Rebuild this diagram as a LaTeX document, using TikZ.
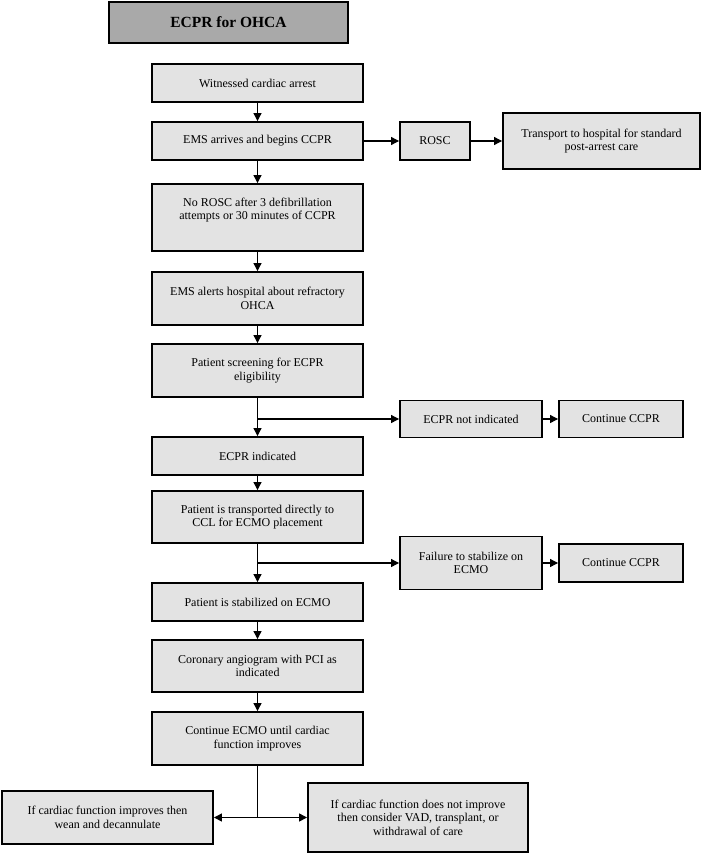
\documentclass[tikz,border=0pt]{standalone}
\usepackage{fontspec}
\setmainfont{Liberation Serif}
\newfontfamily\boxfont{Liberation Serif}
\usepackage{tikz}
\usetikzlibrary{arrows.meta,calc}
\definecolor{boxgray}{HTML}{E3E3E3}
\definecolor{titlegray}{HTML}{A9A9A9}
\tikzset{
  box/.style={draw, line width=1.9pt, fill=boxgray, align=center, inner sep=2pt,
    font=\boxfont\fontsize{12}{13.6}\selectfont},
  tip/.tip={Triangle[length=8pt,width=8pt]},
  arr/.style={-tip, line width=1.1pt},
}
\begin{document}
\begin{tikzpicture}[x=1pt,y=1pt]
  \useasboundingbox (0,0) rectangle (716,-854);
  % title
  \node[box, fill=titlegray, minimum width=239pt, minimum height=41pt,
    font=\boxfont\fontsize{15.5}{17}\selectfont\bfseries] (title) at (228.5,-22.5) {ECPR for OHCA};
  % main column
  \node[box, minimum width=211pt, minimum height=38pt] (witness) at (257.5,-83) {Witnessed cardiac arrest};
  \node[box, minimum width=211pt, minimum height=38pt] (ems) at (257.5,-141) {EMS arrives and begins CCPR};
  \node[box, minimum width=211pt, minimum height=67pt] (norosc) at (257.5,-217.5) {No ROSC after 3 defibrillation\\attempts or 30 minutes of CCPR\\\strut};
  \node[box, minimum width=211pt, minimum height=53pt] (alert) at (257.5,-298.5) {EMS alerts hospital about refractory\\OHCA};
  \node[box, minimum width=211pt, minimum height=53pt] (screen) at (257.5,-370.5) {Patient screening for ECPR\\eligibility};
  \node[box, minimum width=211pt, minimum height=38pt] (indicated) at (257.5,-456) {ECPR indicated};
  \node[box, minimum width=211pt, minimum height=52pt] (transported) at (257.5,-517) {Patient is transported directly to\\CCL for ECMO placement};
  \node[box, minimum width=211pt, minimum height=38pt] (stable) at (257.5,-602) {Patient is stabilized on ECMO};
  \node[box, minimum width=211pt, minimum height=52pt] (angio) at (257.5,-666) {Coronary angiogram with PCI as\\indicated};
  \node[box, minimum width=211pt, minimum height=53pt] (ecmo) at (257.5,-738.5) {Continue ECMO until cardiac\\function improves};
  % side branches
  \node[box, minimum width=70pt, minimum height=38pt] (rosc) at (435,-141) {ROSC};
  \node[box, minimum width=197pt, minimum height=56pt] (hospital) at (601.5,-141) {Transport to hospital for standard\\post-arrest care};
  \node[box, minimum width=142pt, minimum height=37pt] (notind) at (471,-419) {ECPR not indicated};
  \node[box, minimum width=124pt, minimum height=37pt] (ccpra) at (621,-419) {Continue CCPR};
  \node[box, minimum width=142pt, minimum height=53pt] (fail) at (471,-563) {Failure to stabilize on\\ECMO};
  \node[box, minimum width=124pt, minimum height=38pt] (ccprb) at (621,-563) {Continue CCPR};
  % outcomes
  \node[box, minimum width=211pt, minimum height=53pt] (wean) at (107.5,-817.5) {If cardiac function improves then\\wean and decannulate};
  \node[box, minimum width=220pt, minimum height=69pt] (noimprove) at (418,-817.5) {If cardiac function does not improve\\then consider VAD, transplant, or\\withdrawal of care};

  \coordinate (split1) at (screen.south |- notind.west);
  \coordinate (split2) at (transported.south |- fail.west);
  \coordinate (split3) at (ecmo.south |- wean.east);

  \draw[arr] (witness) -- (ems);
  \draw[arr] (ems) -- (norosc);
  \draw[arr] (norosc) -- (alert);
  \draw[arr] (alert) -- (screen);
  \draw[arr] (screen) -- (indicated);
  \draw[arr] (indicated) -- (transported);
  \draw[arr] (transported) -- (stable);
  \draw[arr] (stable) -- (angio);
  \draw[arr] (angio) -- (ecmo);
  \draw[arr] (ems) -- (rosc);
  \draw[arr] (rosc) -- (hospital);
  \draw[arr] (split1) -- (notind);
  \draw[arr] (notind) -- (ccpra);
  \draw[arr] (split2) -- (fail);
  \draw[arr] (fail) -- (ccprb);
  \draw[line width=0.8pt] (ecmo.south) -- (split3);
  \draw[tip-tip, line width=1.3pt] (wean) -- (noimprove);
\end{tikzpicture}
\end{document}
